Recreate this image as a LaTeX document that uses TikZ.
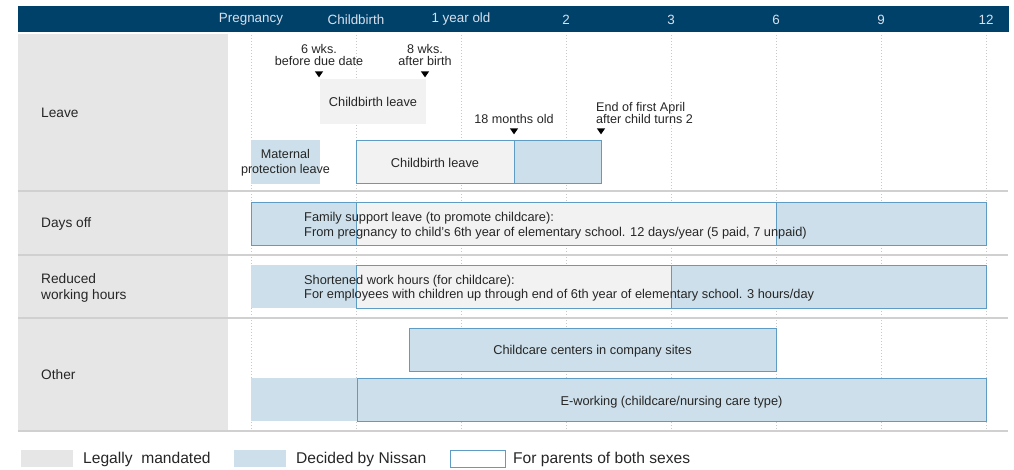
\documentclass[tikz,border=0pt]{standalone}
\usepackage{fontspec}
\setmainfont{Liberation Sans}
\usetikzlibrary{shapes.geometric}
\definecolor{navy}{HTML}{00416A}
\definecolor{hdrtxt}{HTML}{D8E0EC}
\definecolor{colgray}{HTML}{E6E6E6}
\definecolor{boxgray}{HTML}{F2F2F2}
\definecolor{nblue}{HTML}{CDDFEA}
\definecolor{nborder}{HTML}{5F9CC4}
\definecolor{sep}{HTML}{D0D0D0}
\definecolor{dots}{HTML}{C8C8C8}
\definecolor{txt}{HTML}{262626}
\tikzset{
  bar/.style={rectangle, inner sep=0pt, outer sep=0pt},
  legal/.style={bar, fill=boxgray},
  nissan/.style={bar, fill=nblue},
  both/.style={draw=nborder, line width=1pt},
  lbl/.style={font=\fontsize{12.8}{15}\selectfont, text=txt, inner sep=0pt, anchor=base},
  lblw/.style={lbl, anchor=base west},
  ann/.style={font=\fontsize{12.6}{12.8}\selectfont, text=txt, inner sep=0pt, align=center},
  hdr/.style={font=\fontsize{13.4}{15}\selectfont, text=hdrtxt, inner sep=0pt},
  rowlbl/.style={font=\fontsize{13.7}{16}\selectfont, text=txt, inner sep=0pt, anchor=west, align=left},
  leg/.style={font=\fontsize{15.6}{17}\selectfont, text=txt, inner sep=0pt, anchor=west},
  tri/.style={isosceles triangle, isosceles triangle apex angle=70, shape border rotate=-90, fill=black, inner sep=0pt, minimum width=7pt, minimum height=6pt},
  sepline/.style={draw=sep, line width=1.2pt},
  grid/.style={draw=dots, line width=0.6pt, dash pattern=on 0.8pt off 2.2pt}
}
\begin{document}
\begin{tikzpicture}[x=1pt,y=-1pt]
\useasboundingbox (0,0) rectangle (1014,469);
% header
\node[bar, fill=navy, minimum width=991pt, minimum height=26pt] (header) at (513.5,19) {};
\foreach \x/\t/\n in {251/Pregnancy/hp,356/Childbirth/hc,461/1 year old/h1,566/2/h2,671/3/h3,776/6/h6,881/9/h9,986/12/h12}
  \node[hdr] (\n) at (\x,19.5) {\t};
% left column
\node[bar, fill=colgray, minimum width=210pt, minimum height=397pt] (col) at (123,232.5) {};
% grid lines
\foreach \x in {251,356,461,566,671,776,881,986}
  \draw[grid] (\x,35) -- (\x,431);
% separators
\foreach \y/\n in {191/s1,255/s2,318/s3,431/s4} {
  \coordinate (\n l) at (18,\y); \coordinate (\n r) at (1008,\y);
  \draw[sepline] (\n l) -- (\n r);
}
% row labels
\node[rowlbl] (rl1) at (41,113) {Leave};
\node[rowlbl] (rl2) at (41,224) {Days off};
\node[rowlbl] (rl3) at (41,288) {Reduced\\working hours};
\node[rowlbl] (rl4) at (41,375) {Other};
% Leave row
\node[ann] (a1) at (319,55) {6 wks.\\before due date};
\node[ann] (a2) at (425,55) {8 wks.\\after birth};
\node[tri] (t1) at (319,73.5) {};
\node[tri] (t2) at (425,73.5) {};
\node[legal, minimum width=106pt, minimum height=45pt] (cb1) at (373,101.5) {};
\node[lbl] (cb1t) at (373,106) {Childbirth leave};
\node[nissan, minimum width=69pt, minimum height=44pt] (mat) at (285.5,162) {};
\node[ann, font=\fontsize{12.6}{15}\selectfont] (matt) at (285.5,162.5) {Maternal\\protection leave};
\node[legal, both, minimum width=158pt, minimum height=43pt] (cb2) at (435,161.5) {};
\node[lbl] (cb2t) at (435,167.5) {Childbirth leave};
\node[nissan, both, minimum width=87pt, minimum height=43pt] (ext) at (557.5,161.5) {};
\node[ann] (a3) at (514,119) {18 months old};
\node[ann, align=left, anchor=west] (a4) at (596,113) {End of first April\\after child turns 2};
\node[tri] (t3) at (514,130.5) {};
\node[tri] (t4) at (601,130.5) {};
% Days off
\node[nissan, both, minimum width=105pt, minimum height=43pt] (d1) at (303.5,223.5) {};
\node[nissan, both, minimum width=210pt, minimum height=43pt] (d3) at (881,223.5) {};
\node[legal, both, minimum width=420pt, minimum height=43pt] (d2) at (566,223.5) {};
\node[lblw] (dt1) at (304,221.7) {Family support leave (to promote childcare):};
\node[lblw] (dt2) at (304,236.2) {From pregnancy to child’s 6th year of elementary school. 12 days/year (5 paid, 7 unpaid)};
% Reduced
\node[nissan, minimum width=105pt, minimum height=43pt] (r1) at (303.5,286.5) {};
\node[nissan, both, minimum width=315pt, minimum height=43pt] (r3) at (828.5,286.5) {};
\node[legal, both, minimum width=315pt, minimum height=43pt] (r2) at (513.5,286.5) {};
\node[lblw] (rt1) at (304,284.3) {Shortened work hours (for childcare):};
\node[lblw] (rt2) at (304,298.8) {For employees with children up through end of 6th year of elementary school. 3 hours/day};
% Other
\node[nissan, both, minimum width=367pt, minimum height=43pt] (cc) at (592.5,349.5) {};
\node[lbl] (cct) at (592.5,354.3) {Childcare centers in company sites};
\node[nissan, minimum width=106pt, minimum height=43pt] (e1) at (304,399.5) {};
\node[nissan, both, minimum width=629pt, minimum height=43pt] (e2) at (671.5,399.5) {};
\node[lbl] (e2t) at (671.5,405) {E-working (childcare/nursing care type)};
% legend
\node[bar, fill=colgray, minimum width=52pt, minimum height=17pt] (lg1) at (47,458.5) {};
\node[leg] (lg1t) at (83,459) {Legally\ \ mandated};
\node[bar, fill=nblue, minimum width=52pt, minimum height=17pt] (lg2) at (260,458.5) {};
\node[leg] (lg2t) at (296,459) {Decided by Nissan};
\node[bar, draw=nborder, line width=1pt, fill=white, minimum width=55pt, minimum height=17pt] (lg3) at (477.5,458.5) {};
\node[leg] (lg3t) at (513,459) {For parents of both sexes};
\end{tikzpicture}
\end{document}
